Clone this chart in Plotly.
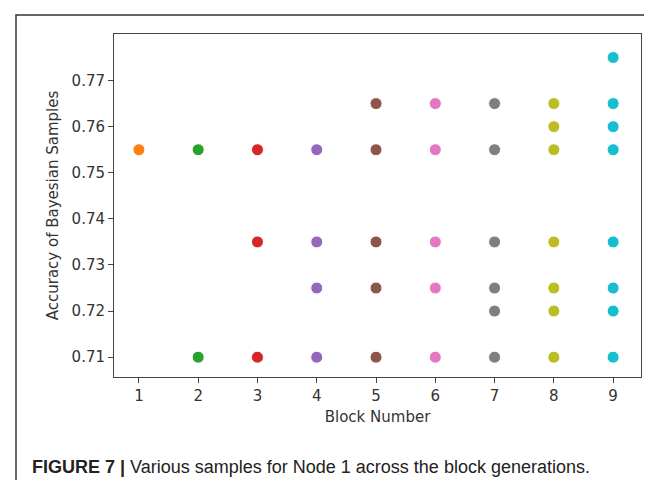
import plotly.graph_objects as go

blocks = [1, 2, 3, 4, 5, 6, 7, 8, 9]
acc_block1 = [0.755]
acc_block2 = [0.755, 0.71]
acc_block3 = [0.755, 0.735, 0.71]
acc_block4 = [0.755, 0.735, 0.725, 0.71]
acc_block5 = [0.765, 0.755, 0.735, 0.725, 0.71]
acc_block6 = [0.765, 0.755, 0.735, 0.725, 0.71]
acc_block7 = [0.765, 0.755, 0.735, 0.725, 0.72, 0.71]
acc_block8 = [0.765, 0.76, 0.755, 0.735, 0.725, 0.72, 0.71]
acc_block9 = [0.775, 0.765, 0.76, 0.755, 0.735, 0.725, 0.72, 0.71]
all_acc = [acc_block1, acc_block2, acc_block3, acc_block4, acc_block5,
           acc_block6, acc_block7, acc_block8, acc_block9]
colors = ["#ff7f0e", "#2ca02c", "#d62728", "#9467bd", "#8c564b",
          "#e377c2", "#7f7f7f", "#bcbd22", "#17becf"]
y_ticks = [0.71, 0.72, 0.73, 0.74, 0.75, 0.76, 0.77]

fig = go.Figure()
for b, acc, c in zip(blocks, all_acc, colors):
    fig.add_trace(go.Scatter(
        x=[b] * len(acc), y=acc, mode="markers",
        marker=dict(size=12, color=c, line=dict(color="white", width=1)),
        showlegend=False, cliponaxis=False))

W, H = 652, 480
L, R, T, B = 106, 19, 26, 111
pw, ph = W - L - R, H - T - B

def px(x):
    return (x - L) / pw

def py(y):
    return 1 - (y - T) / ph

axis_common = dict(showgrid=False, zeroline=False, showline=True, linecolor="#444",
                   linewidth=1, mirror=True, ticks="outside", ticklen=5,
                   tickcolor="#444", tickfont=dict(family="DejaVu Sans", size=15, color="#333"))

fig.update_xaxes(range=[0.58, 9.47], tickmode="array", tickvals=blocks,
                 title=dict(text="Block Number", standoff=7,
                            font=dict(family="DejaVu Sans", size=15, color="#333")),
                 **axis_common)
fig.update_yaxes(range=[0.7057, 0.7801], tickmode="array", tickvals=y_ticks,
                 ticktext=[f"{v:.2f}" for v in y_ticks],
                 title=dict(text="Accuracy of Bayesian Samples", standoff=9,
                            font=dict(family="DejaVu Sans", size=15, color="#333")),
                 **axis_common)

fig.update_layout(
    width=W, height=H,
    margin=dict(l=L, r=R, t=T, b=B, autoexpand=False),
    paper_bgcolor="white", plot_bgcolor="white",
    shapes=[dict(type="path", xref="paper", yref="paper",
                 path=f"M {px(8)} {py(490)} L {px(8)} {py(7)} L {px(700)} {py(7)}",
                 line=dict(color="#333", width=1.5))],
    annotations=[dict(xref="paper", yref="paper", x=px(22), y=py(459),
                      xanchor="left", yanchor="middle", showarrow=False,
                      text="<b>FIGURE 7 |</b> Various samples for Node 1 across the block generations.",
                      font=dict(family="Liberation Sans", size=18, color="#222"))],
)

fig.write_html("out.html")
